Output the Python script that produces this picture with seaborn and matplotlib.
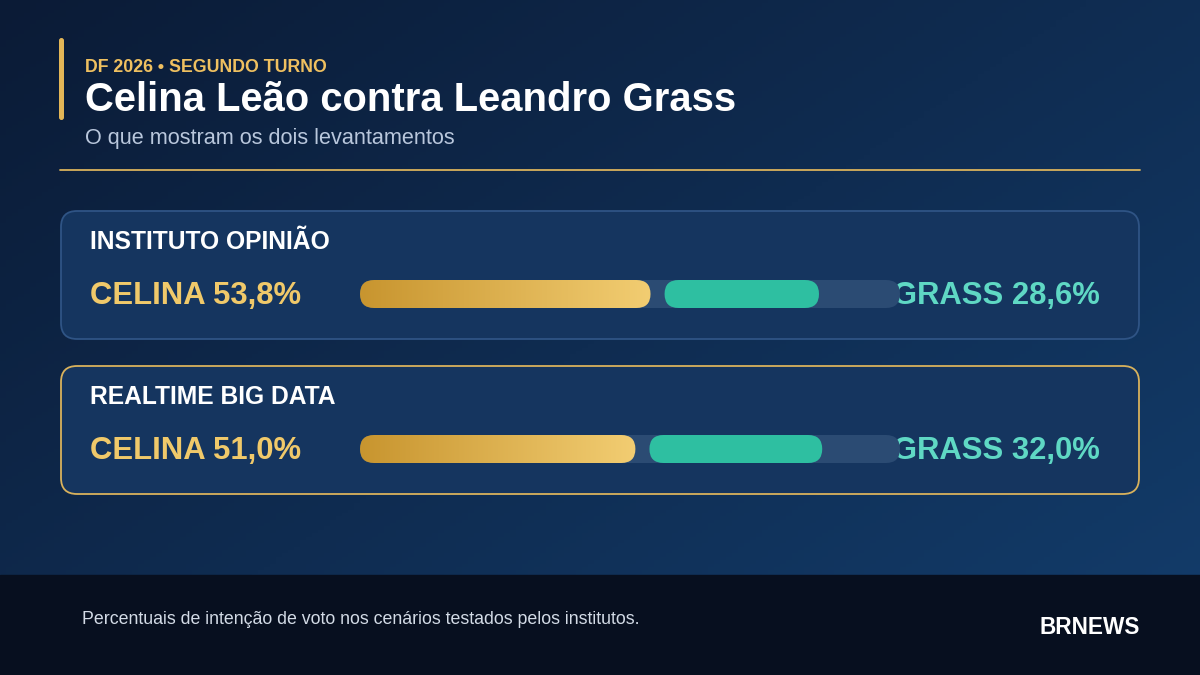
import numpy as np
import matplotlib
matplotlib.use("Agg")
import matplotlib.pyplot as plt
import seaborn as sns
import pandas as pd
from matplotlib.patches import FancyBboxPatch
from matplotlib.colors import LinearSegmentedColormap

# ---- data ----
institutes = ["INSTITUTO OPINIÃO", "REALTIME BIG DATA"]
celina = [53.8, 51.0]
grass = [28.6, 32.0]
kicker = "DF 2026 • SEGUNDO TURNO"
title = "Celina Leão contra Leandro Grass"
subtitle = "O que mostram os dois levantamentos"
footer = "Percentuais de intenção de voto nos cenários testados pelos institutos."
brand = "BRNEWS"

sns.set_theme(style="white")
plt.rcParams['font.family'] = ['Liberation Sans', 'DejaVu Sans']

W, H = 1200, 675
fig = plt.figure(figsize=(12, 6.75), dpi=100)
bg = fig.add_axes([0, 0, 1, 1])
bg.set_xlim(0, W)
bg.set_ylim(H, 0)
bg.axis("off")

# background gradient
yy, xx = np.mgrid[0:1:200j, 0:1:200j]
t = (0.55 * xx + 0.45 * yy)
c0 = np.array([0x0b, 0x1b, 0x36]) / 255
c1 = np.array([0x13, 0x3d, 0x6c]) / 255
img = c0[None, None, :] * (1 - t[..., None]) + c1[None, None, :] * t[..., None]
bg.imshow(img, extent=[0, W, H, 0], aspect="auto", zorder=0)

# footer band
bg.add_patch(plt.Rectangle((0, 575), W, 100, color="#070f1f", zorder=1))

# accent bar
bg.add_patch(FancyBboxPatch((59, 38), 5, 82, boxstyle="round,pad=0,rounding_size=2.5",
                            color="#e3b657", lw=0, zorder=2))
bg.text(85, 72, kicker, color="#efc060", fontsize=12.8, fontweight="bold", va="baseline", zorder=3)
bg.text(85, 111, title, color="white", fontsize=28.8, fontweight="bold", va="baseline", zorder=3)
bg.text(85, 144, subtitle, color="#b9c7dc", fontsize=15.6, va="baseline", zorder=3)
bg.plot([60, 1140], [170, 170], color="#d9b25c", lw=1.3, zorder=2)

bg.text(82, 624, footer, color="#d3dbe6", fontsize=12.8, va="baseline", zorder=3)
bg.text(1140, 634, brand, color="white", fontsize=16.3, fontweight="bold", va="baseline", ha="right", zorder=3)

card_tops = [210, 365]
card_edges = ["#2f5485", "#d9b25c"]
gold_cmap = LinearSegmentedColormap.from_list("gold", ["#c8952f", "#f2cd72"])

df = pd.DataFrame({"inst": institutes, "celina": celina, "grass": grass})
gap = 2.6

for i, row in df.iterrows():
    top = card_tops[i]
    bg.add_patch(FancyBboxPatch((61, top + 1), 1078, 128, boxstyle="round,pad=0,rounding_size=16",
                                facecolor="#15355f", edgecolor=card_edges[i], lw=1.3, zorder=2))
    bg.text(90, top + 39, row["inst"], color="white", fontsize=17.7, fontweight="bold", va="baseline", zorder=3)
    bg.text(90, top + 94, f"CELINA {row['celina']:.1f}%".replace(".", ","), color="#f0c96a",
            fontsize=22.3, fontweight="bold", va="baseline", zorder=3)
    bg.text(1100, top + 94, f"GRASS {row['grass']:.1f}%".replace(".", ","), color="#5fd8c4",
            fontsize=22.3, fontweight="bold", va="baseline", ha="right", zorder=6)

    # bar axes: track from x=360..900 px, height 28 px
    yc = top + 84
    ax = fig.add_axes([360 / W, 1 - (yc + 14) / H, 540 / W, 28 / H])
    ax.patch.set_alpha(0)
    ax.set_zorder(5)
    sns.barplot(x=[row["celina"]], y=[0], orient="h", ax=ax, color="#f2cd72")
    ax.axis("off")
    p = ax.patches[0]
    cel_w = p.get_width()
    p.remove()
    r = 14 / 5.4
    asp = (1 / 28) / (1 / 5.4)

    def rbox(x0, w, **kw):
        return FancyBboxPatch((x0, -0.5), w, 1.0, boxstyle=f"round,pad=0,rounding_size={r}",
                              mutation_aspect=asp, lw=0, **kw)
    ax.add_patch(rbox(0, 100, facecolor="#2b4b73", zorder=1))
    cb = rbox(0, cel_w, facecolor="none", zorder=2)
    ax.add_patch(cb)
    grad = np.linspace(0, 1, 256)[None, :]
    im = ax.imshow(grad, extent=[0, cel_w, -0.5, 0.5], aspect="auto", cmap=gold_cmap, zorder=2)
    im.set_clip_path(cb)
    ax.add_patch(rbox(cel_w + gap, row["grass"], facecolor="#2ebfa1", zorder=3))
    ax.set_xlim(0, 100)
    ax.set_ylim(-0.5, 0.5)

fig.savefig("out.png", dpi=100)
